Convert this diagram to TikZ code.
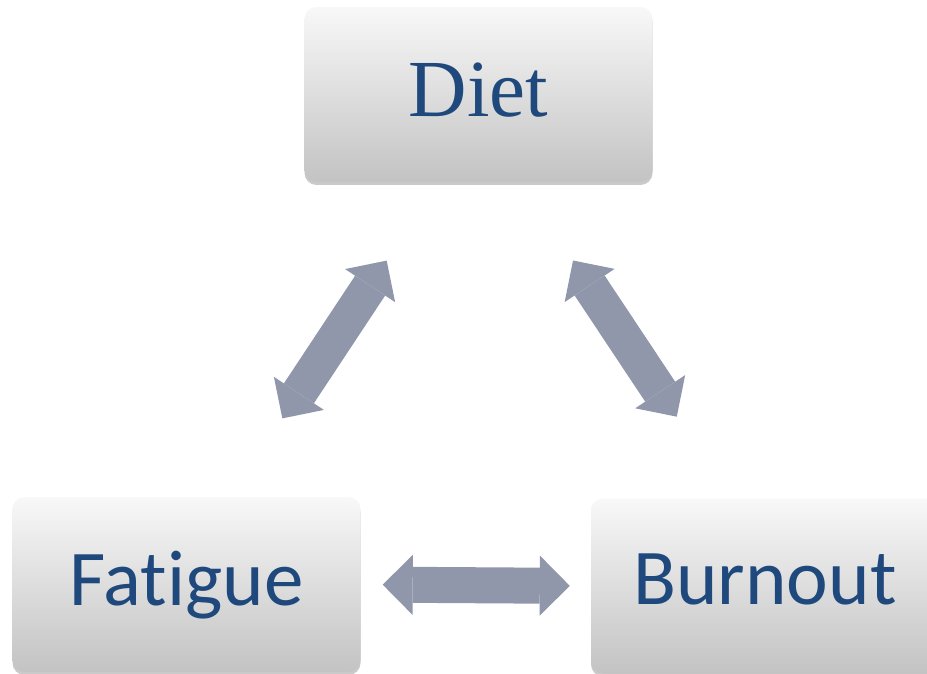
\documentclass[tikz,border=0pt]{standalone}
\usepackage{fontspec}
\usetikzlibrary{arrows.meta,calc,shadows}
\newfontfamily\dietfont{Liberation Serif}
\newfontfamily\cardfont[Ligatures=NoCommon]{Carlito}
\definecolor{navy}{RGB}{31,73,125}
\definecolor{cardtop}{RGB}{248,248,248}
\definecolor{cardbot}{RGB}{195,195,195}
\definecolor{arrowgray}{RGB}{145,151,170}

\tikzset{
  card/.style={rounded corners=12pt, minimum width=348pt, minimum height=175pt,
    inner sep=0pt, shading=axis, top color=cardtop, bottom color=cardbot,
    text=navy, drop shadow={shadow xshift=0pt, shadow yshift=-3pt, opacity=0.35, fill=black!60}},
  fatarrow/.style={arrowgray, line width=36pt,
    {Triangle[width=60pt,length=30pt,line width=0pt]}-{Triangle[width=60pt,length=30pt,line width=0pt]}}
}

\begin{document}
\begin{tikzpicture}[x=1pt, y=1pt]

% ── Canvas ───────────────────────────────────────────────────────────
\path[use as bounding box] (0,0) rectangle (927,673);
\clip (0,0) rectangle (927,673);

% ── Boxes ────────────────────────────────────────────────────────────
\node[card, text height=54pt, text depth=9pt,
  font=\dietfont\fontsize{81}{90}\selectfont] (diet) at (478.5,578.5) {Diet};
\node[card, text height=50pt, text depth=9pt,
  font=\cardfont\fontsize{79}{90}\selectfont] (fatigue) at (186.5,88.5) {Fatigue};
\node[card, text height=48pt, text depth=11pt,
  font=\cardfont\fontsize{79}{90}\selectfont] (burnout) at (765,87) {Burnout};

% ── Double arrows ────────────────────────────────────────────────────
\draw[fatarrow, shorten <=94pt, shorten >=94pt]
  ($(fatigue.north)+(44,0)$) -- ($(diet.south)+(-40,0)$);
\draw[fatarrow, shorten <=94pt, shorten >=98pt]
  ($(diet.south)+(42.5,0)$) -- ($(burnout.north)+(-34,0)$);
\draw[fatarrow, shorten <=22pt, shorten >=21pt] (fatigue.east) -- (burnout.west);

\end{tikzpicture}
\end{document}
